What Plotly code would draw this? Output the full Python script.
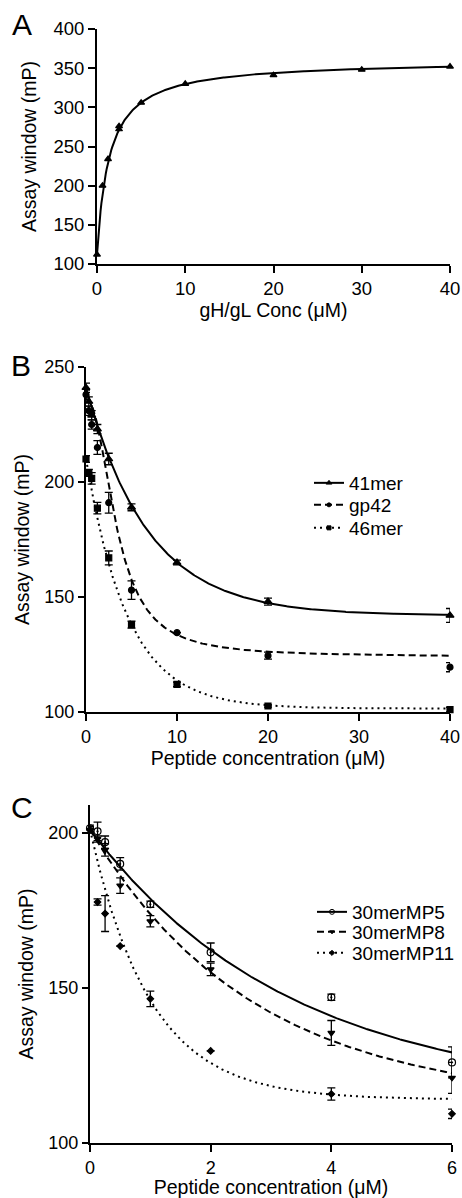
import numpy as np
import plotly.graph_objects as go

# ---------------- Panel A data ----------------
a_x = [0, 0.625, 1.25, 2.5, 2.5, 5, 10, 20, 30, 40]
a_y = [112, 200, 234, 272, 276, 306, 330, 341, 348, 352]
# one-site binding fit: y = y0 + Bmax*x/(Kd+x)
a_fit = dict(y0=112, bmax=248, kd=1.39)

# ---------------- Panel B data ----------------
b_x = [0, 0.3125, 0.625, 1.25, 2.5, 5, 10, 20, 40]
b41_y = [241, 235, 229, 223, 210, 189, 165, 148, 142]
b41_e = [2, 2, 2, 2, 2.5, 1.5, 1, 1.5, 3]
bgp_y = [238, 231, 225, 215, 191, 153, 134.5, 124.5, 119.5]
bgp_e = [2, 2, 2, 3, 4.5, 4, 0, 1.5, 2]
b46_y = [210, 204, 201.6, 188.6, 167, 138, 112, 102.6, 101]
b46_e = [1.5, 1.5, 2.5, 2.5, 3, 1.5, 1, 0.5, 1]
b41_fit = dict(y0=241, plateau=142, k=0.146)          # one-phase decay
bgp_fit = dict(top=236, bottom=124, ic50=3.4, h=2.2)   # sigmoidal
b46_fit = dict(y0=210, plateau=101.5, k=0.218)        # one-phase decay

# ---------------- Panel C data ----------------
c_x = [0, 0.125, 0.25, 0.5, 1, 2, 4, 6]
c5_y = [201.5, 200.5, 197, 190, 177, 161.5, 147, 126]
c5_e = [1, 3, 2, 2, 1, 3, 1, 5]
c8_y = [201, 198, 194.5, 183, 171.5, 156, 135.5, 121]
c8_e = [1, 1, 2, 2.5, 1.8, 2, 4, 5]
c11_y = [201, 177.7, 174, 163.5, 146.5, 129.7, 115.8, 109.4]
c11_e = [1, 1, 5.8, 0, 2.5, 0, 2, 1.5]
c5_fit = dict(y0=201, plateau=115, k=0.30)
c8_fit = dict(y0=201, plateau=113, k=0.37)
c11_fit = dict(y0=201, plateau=114, k=1.0)

names_b = ["41mer", "gp42", "46mer"]
names_c = ["30merMP5", "30merMP8", "30merMP11"]

FONT = "Liberation Sans, Arial, Helvetica, sans-serif"
BLK = "black"


def decay(x, p):
    return p["plateau"] + (p["y0"] - p["plateau"]) * np.exp(-p["k"] * x)


def sigm(x, p):
    return p["bottom"] + (p["top"] - p["bottom"]) / (1 + (x / p["ic50"]) ** p["h"])


fig = go.Figure()

DOT = "2px,4px"
DASH = "7px,4px"


def add_set(xd, yd, ed, xf, yf, sym, size, dash, name, xa, ya, legend):
    fig.add_trace(go.Scatter(x=xf, y=yf, mode="lines", line=dict(color=BLK, width=2, dash=dash),
                             showlegend=False, xaxis=xa, yaxis=ya, hoverinfo="skip"))
    fig.add_trace(go.Scatter(x=xd, y=yd, mode="markers",
                             marker=dict(symbol=sym, size=size, color=BLK,
                                         line=dict(color=BLK, width=1.2)),
                             error_y=dict(type="data", array=ed, color=BLK, thickness=1.3, width=4)
                             if ed is not None else None,
                             cliponaxis=False, showlegend=False, xaxis=xa, yaxis=ya))
    if legend:
        fig.add_trace(go.Scatter(x=[None], y=[None], mode="lines+markers", name=name,
                                 line=dict(color=BLK, width=2, dash=dash),
                                 marker=dict(symbol=sym, size=max(size - 2, 4), color=BLK,
                                             line=dict(color=BLK, width=1)),
                                 legend=legend, xaxis=xa, yaxis=ya))


# Panel A
xa_f = np.linspace(0, 40, 400)
ya_f = a_fit["y0"] + a_fit["bmax"] * xa_f / (a_fit["kd"] + xa_f)
add_set(a_x, a_y, None, xa_f, ya_f, "triangle-up", 6, "solid", "", "x", "y", None)

# Panel B
xb_f = np.linspace(0, 40, 400)
add_set(b_x, b41_y, b41_e, xb_f, decay(xb_f, b41_fit), "triangle-up", 7, "solid", names_b[0], "x2", "y2", "legend")
add_set(b_x, bgp_y, bgp_e, xb_f, sigm(xb_f, bgp_fit), "circle", 6, DASH, names_b[1], "x2", "y2", "legend2")
add_set(b_x, b46_y, b46_e, xb_f, decay(xb_f, b46_fit), "square", 6, DOT, names_b[2], "x2", "y2", "legend3")

# Panel C
xc_f = np.linspace(0, 6, 300)
add_set(c_x, c5_y, c5_e, xc_f, decay(xc_f, c5_fit), "circle-open-dot", 7, "solid", names_c[0], "x3", "y3", "legend4")
add_set(c_x, c8_y, c8_e, xc_f, decay(xc_f, c8_fit), "triangle-down", 6, DASH, names_c[1], "x3", "y3", "legend5")
add_set(c_x, c11_y, c11_e, xc_f, decay(xc_f, c11_fit), "diamond", 5, DOT, names_c[2], "x3", "y3", "legend6")

W, H = 462, 1198


def px(v):
    return v / W


def py(v):
    return 1 - v / H


axis_common = dict(showline=True, linecolor=BLK, linewidth=2, ticks="outside", ticklen=7,
                   tickwidth=2, tickcolor=BLK, showgrid=False, zeroline=False,
                   tickfont=dict(family=FONT, size=18.5, color=BLK), mirror=False)
title_font = dict(family=FONT, size=19.5, color=BLK)
tf_b = dict(family=FONT, size=18, color=BLK)


def leg(xl, yc):
    return dict(x=px(xl), y=py(yc), xanchor="left", yanchor="middle", bgcolor="rgba(0,0,0,0)",
                font=dict(family=FONT, size=19, color=BLK), itemwidth=30)


fig.update_layout(
    width=W, height=H, margin=dict(l=0, r=0, t=0, b=0, autoexpand=False),
    paper_bgcolor="white", plot_bgcolor="white",
    font=dict(family=FONT, color=BLK),
    xaxis=dict(axis_common, domain=[px(97), px(450)], range=[0, 40], tickvals=[0, 10, 20, 30, 40],
               anchor="y", title=dict(text="gH/gL Conc (μM)", font=title_font, standoff=5)),
    yaxis=dict(axis_common, domain=[py(264), py(29)], range=[100, 400],
               tickvals=[100, 150, 200, 250, 300, 350, 400], anchor="x",
               title=dict(text="Assay window (mP)", font=title_font, standoff=12)),
    xaxis2=dict(axis_common, domain=[px(86), px(450)], range=[0, 40], tickvals=[0, 10, 20, 30, 40],
                anchor="y2", tickfont=tf_b,
                title=dict(text="Peptide concentration (μM)", font=title_font, standoff=4)),
    yaxis2=dict(axis_common, domain=[py(712), py(367)], range=[100, 250],
                tickvals=[100, 150, 200, 250], anchor="x2", ticklen=6, tickfont=tf_b,
                title=dict(text="Assay window (mP)", font=title_font, standoff=10)),
    xaxis3=dict(axis_common, domain=[px(90), px(452)], range=[0, 6], tickvals=[0, 2, 4, 6],
                anchor="y3", tickfont=tf_b,
                title=dict(text="Peptide concentration (μM)", font=title_font, standoff=4)),
    yaxis3=dict(axis_common, domain=[py(1143), py(805)], range=[100, 209],
                tickvals=[100, 150, 200], anchor="x3", ticklen=6, tickfont=tf_b,
                title=dict(text="Assay window (mP)", font=title_font, standoff=10)),
    legend=leg(309, 483),
    legend2=leg(309, 505),
    legend3=leg(309, 528),
    legend4=leg(312, 912),
    legend5=leg(312, 932),
    legend6=leg(312, 953),
)

for letter, xx, yy in [("A", 22, 24), ("B", 21, 365), ("C", 22, 807)]:
    fig.add_annotation(text=letter, x=px(xx), y=py(yy), xref="paper", yref="paper",
                       showarrow=False, xanchor="center", yanchor="middle",
                       font=dict(family=FONT, size=30, color=BLK))

fig.write_html("out.html")
